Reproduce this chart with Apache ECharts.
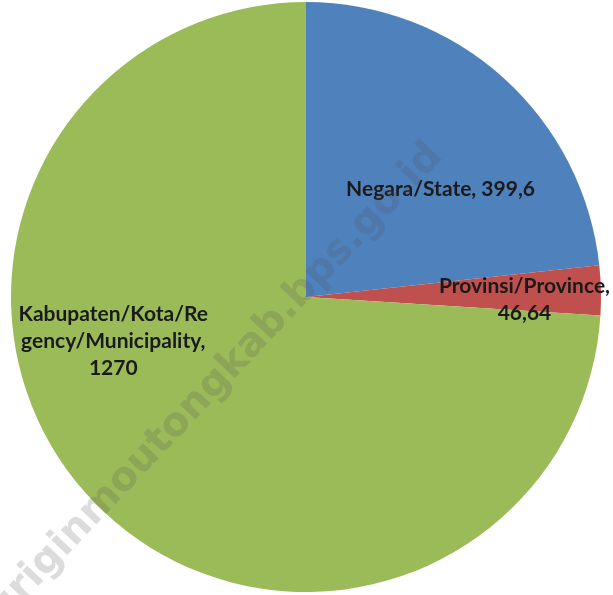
<!DOCTYPE html>
<html><head><meta charset="utf-8">
<script src="https://cdn.jsdelivr.net/npm/echarts@6/dist/echarts.min.js"></script>
<style>html,body{margin:0;padding:0;background:#fff}#c{width:613px;height:595px}</style>
</head><body><div id="c"></div>
<script>
var categories = ['Negara/State', 'Provinsi/Province', 'Kabupaten/Kota/Re\ngency/Municipality'];
var values = [399.6, 46.64, 1270];
var valueLabels = ['399,6', '46,64', '1270'];
var colors = ['#4F81BD', '#C0504D', '#9BBB59'];
var labelText = [
  'Negara/State, 399,6',
  'Provinsi/Province,\n46,64',
  'Kabupaten/Kota/Re\ngency/Municipality,\n1270'
];
var labelOffsets = [[34, 4], [68, 6], [-83, -59]];
var watermark = 'kuriginmoutongkab.bps.go.id';

var chart = echarts.init(document.getElementById('c'));
chart.setOption({
  animation: false,
  graphic: [{
    type: 'text', z: 100,
    x: 436, y: 150, rotation: 46.6 * Math.PI / 180, originX: 0, originY: 0,
    style: {
      text: watermark,
      font: 'bold 40px "DejaVu Sans", sans-serif',
      fill: 'rgba(80,80,80,0.2)',
      align: 'right', verticalAlign: 'middle'
    }
  }],
  series: [{
    type: 'pie',
    center: [306, 297],
    radius: 295,
    startAngle: 90,
    clockwise: true,
    silent: true,
    data: categories.map(function (c, i) {
      return {
        name: c, value: values[i],
        itemStyle: { color: colors[i] },
        label: { formatter: labelText[i], offset: labelOffsets[i] }
      };
    }),
    label: {
      position: 'inside',
      color: '#1a1a1a',
      fontFamily: 'Lato, "Open Sans", sans-serif',
      fontWeight: 'bold',
      fontSize: 21,
      lineHeight: 27,
      align: 'center'
    },
    labelLine: { show: false },
    itemStyle: { borderWidth: 0 }
  }]
});
</script></body></html>
